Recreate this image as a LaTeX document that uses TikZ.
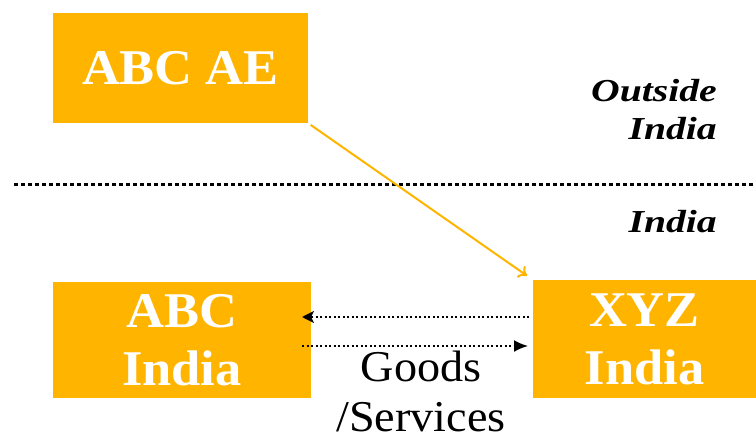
\documentclass[tikz,border=0pt]{standalone}
\usepackage{fontspec}
\setmainfont{Liberation Serif}
\newfontfamily\wideserif[FakeStretch=1.24]{Liberation Serif}
\newfontfamily\boxserif[FakeStretch=1.05]{Liberation Serif}
\usetikzlibrary{arrows.meta}
\definecolor{boxorange}{HTML}{FFB400}
\begin{document}
\begin{tikzpicture}[x=1pt,y=-1pt,
  entity/.style={fill=boxorange, text=white, inner sep=0pt, align=center,
    font=\boxserif\fontsize{50}{58}\selectfont\bfseries},
  region/.style={inner sep=0pt, align=right,
    font=\wideserif\fontsize{32}{38}\selectfont\bfseries\itshape},
  flow/.style={line width=2pt, dash pattern=on 2pt off 2.5pt},
  border/.style={line width=3pt, dash pattern=on 3.5pt off 3.5pt},
  link/.style={boxorange, line width=2pt, -{To[length=8pt,width=14pt,line width=2pt]}}
]
\useasboundingbox (0,0) rectangle (756,441);

% entities
\node[entity, minimum width=255pt, minimum height=110pt] (abcae) at (180.5,68) {ABC AE};
\node[entity, minimum width=258pt, minimum height=116pt] (abcin) at (182,340) {ABC\\India};
\node[entity, minimum width=223pt, minimum height=118pt] (xyzin) at (644.5,339) {XYZ\\India};

% jurisdiction border
\coordinate (bl) at (14,185);
\coordinate (br) at (756,185);
\draw[border] (bl) -- (br);

% region labels
\node[region, anchor=north east] (outside) at (717,79) {Outside\\India};
\node[region, anchor=north east] (india) at (717,210) {India};

% ownership link
\draw[link, shorten <=3pt, shorten >=7pt] (abcae.south east) -- (xyzin.north west);

% payment and supply flows
\coordinate (payS) at (529,317);
\coordinate (payE) at (302,317);
\coordinate (supS) at (302,346);
\coordinate (supE) at (528,346);
\draw[flow, -{Stealth[length=12pt,width=12pt,inset=3pt]}] (payS) -- (payE);
\draw[flow, -{Latex[length=14pt,width=12pt]}] (supS) -- (supE);

\node[align=center, inner sep=0pt, font=\boxserif\fontsize{44}{50}\selectfont, anchor=north] (goods) at (421,351) {Goods\\/Services};
\end{tikzpicture}
\end{document}
